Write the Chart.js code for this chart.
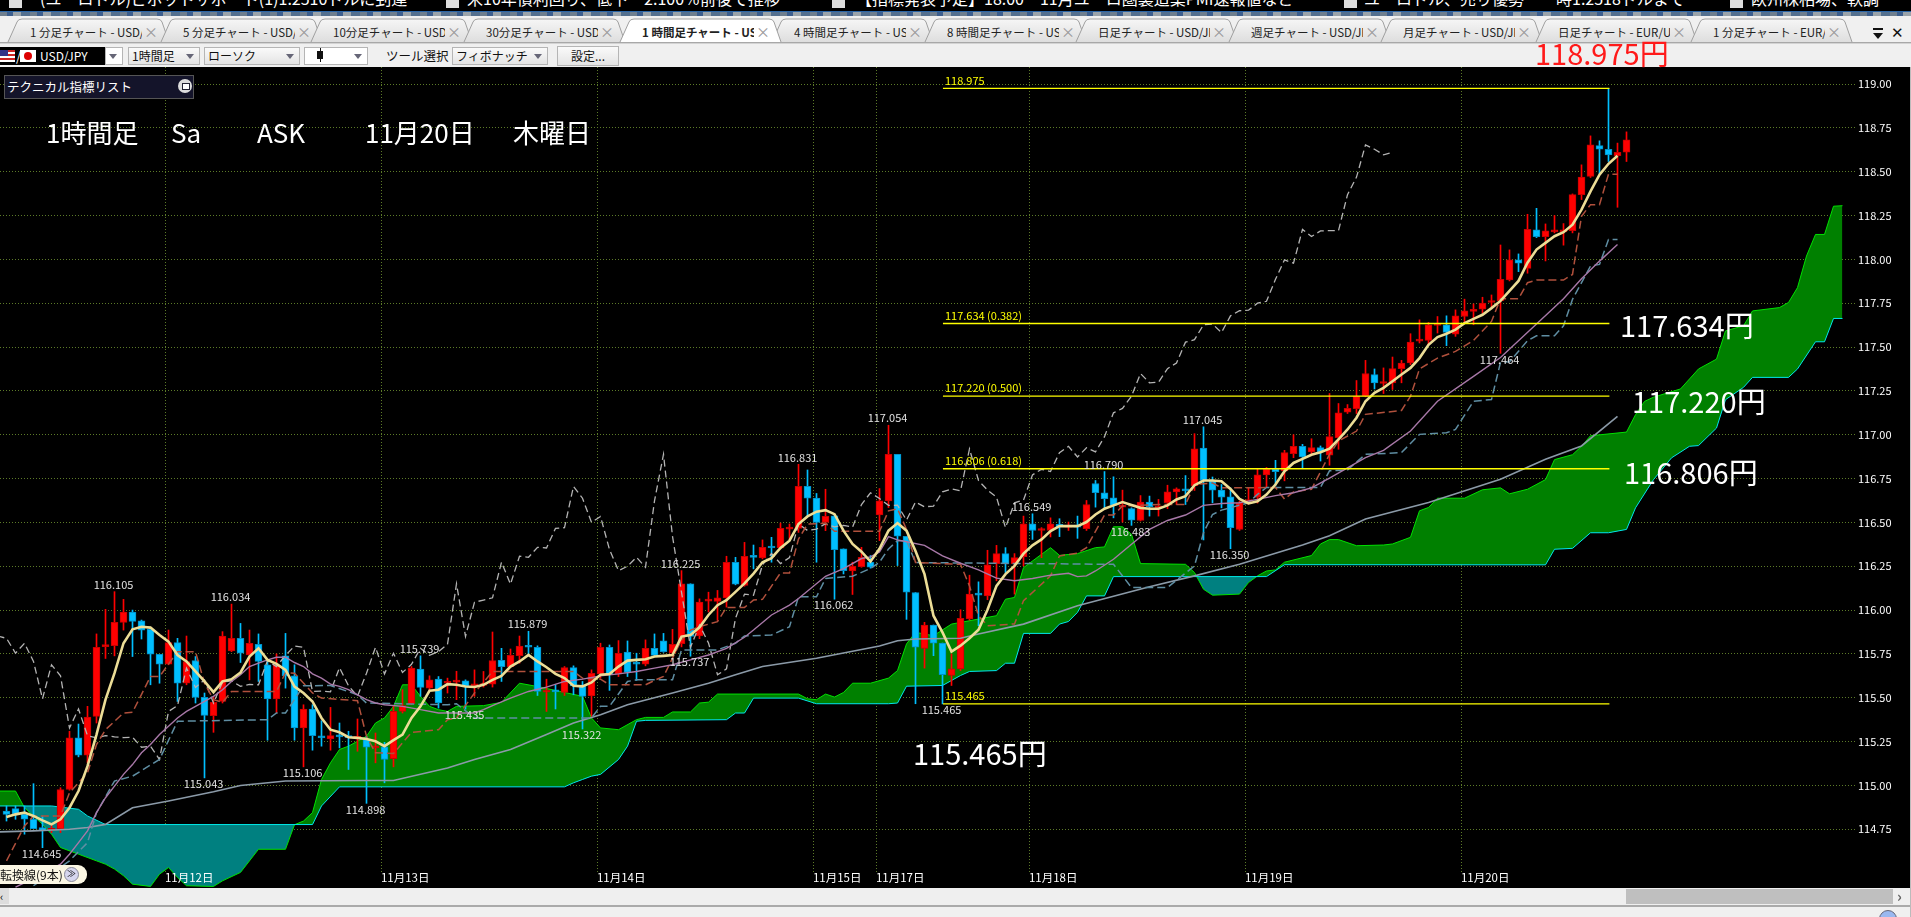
<!DOCTYPE html>
<html lang="ja"><head><meta charset="utf-8">
<script src="https://cdn.jsdelivr.net/npm/chart.js@4/dist/chart.umd.min.js"></script>
<style>
html,body{margin:0;padding:0;width:1911px;height:917px;overflow:hidden;background:#f0f0f0;font-family:"Noto Sans CJK JP",sans-serif}
.a{position:absolute;white-space:nowrap}
#ticker{position:absolute;left:0;top:0;width:1911px;height:11px;background:#000;overflow:hidden}
#ticker span{position:absolute;top:-13px;color:#fff;font-size:16px;line-height:22px;white-space:nowrap}
#ticker i{position:absolute;top:0;width:13px;height:8px;background:#ddd}
#stripe{position:absolute;left:0;top:11px;width:1911px;height:5px;background:repeating-linear-gradient(90deg,#6f7f8f 0 7px,#3d5f8e 7px 13px,#9aa3aa 13px 21px,#54708f 21px 30px);border-top:1px solid #2a66a8;box-sizing:border-box}
.tabt{position:absolute;top:24px;height:16px;line-height:16px;width:112px;overflow:hidden;white-space:nowrap;font-size:11.5px;color:#222}
.tabx{position:absolute;top:23px;color:#999;font-size:14px;line-height:16px}
.sel{position:absolute;top:47px;height:18px;box-sizing:border-box;border:1px solid #b5b5b5;background:linear-gradient(#fafafa,#e4e4e4);font-size:12px;line-height:16px;padding-left:3px;color:#111;white-space:nowrap}
.sel b{position:absolute;right:5px;top:6px;width:0;height:0;border-left:4px solid transparent;border-right:4px solid transparent;border-top:5px solid #667}
.big{position:absolute;color:#fff;font-size:29px;line-height:34px;white-space:nowrap;z-index:5}
.ttl{position:absolute;color:#fff;font-size:26px;line-height:32px;top:116px;z-index:5;white-space:nowrap}
#c{position:absolute;left:0;top:67px;display:block}
</style></head><body>
<div id="ticker">
<i style="left:9px"></i><span style="left:40px">(ユーロドル)ピボットサポート(1)1.2510ドルに到達</span>
<i style="left:446px"></i><span style="left:467px">米10年債利回り、低下　2.100％前後で推移</span>
<i style="left:832px"></i><span style="left:856px">【指標発表予定】18:00　11月ユーロ圏製造業PMI速報値など</span>
<i style="left:1344px"></i><span style="left:1364px">ユーロドル、売り優勢　一時1.2518ドルまで</span>
<i style="left:1730px"></i><span style="left:1751px">欧州株相場、軟調</span></div>
<div id="stripe"></div>
<svg id="tabs" width="1911" height="44" style="position:absolute;left:0;top:0"></svg>
<div id="tabtext"></div>
<div class="a" style="left:1873px;top:33px;width:0;height:0;border-left:5px solid transparent;border-right:5px solid transparent;border-top:6px solid #111"></div>
<div class="a" style="left:1873px;top:28px;width:10px;height:2px;background:#111"></div>
<div class="a" style="left:1891px;top:22px;font-size:15px;line-height:20px;color:#111">✕</div>

<div class="a" style="left:0;top:47px;width:105px;height:18px;background:#000;color:#fff;font-size:12px;line-height:18px"><span style="position:absolute;left:40px">USD/JPY</span></div>
<div class="a" style="left:0;top:50px;width:15px;height:12px;background:repeating-linear-gradient(#c22 0 2px,#fff 2px 4px)"><div style="width:8px;height:6px;background:#338"></div></div>
<div class="a" style="left:16px;top:47px;color:#fff;font-size:13px;line-height:18px">/</div>
<div class="a" style="left:20px;top:50px;width:16px;height:12px;background:#fff"><div style="width:8px;height:8px;border-radius:50%;background:#d00;margin:2px 4px"></div></div>
<div class="sel" style="left:105px;width:18px;background:#fff"><b></b></div>
<div class="sel" style="left:128px;width:72px">1時間足<b></b></div>
<div class="sel" style="left:204px;width:96px">ローソク<b></b></div>
<div class="sel" style="left:304px;width:64px;background:#fff"><span style="position:absolute;left:12px;top:3px;width:6px;height:8px;background:#111"></span><span style="position:absolute;left:14.5px;top:0;width:1px;height:14px;background:#111"></span><b></b></div>
<div class="a" style="left:386px;top:47px;font-size:12.5px;line-height:18px;color:#111">ツール選択</div>
<div class="sel" style="left:452px;width:96px">フィボナッチ<b></b></div>
<div class="sel" style="left:557px;width:62px;height:20px;top:46px;text-align:center;padding:0;line-height:18px">設定...</div>
<div class="a" style="left:1535px;top:35px;color:#ff1a1a;font-size:29px;line-height:34px;z-index:5">118.975円</div>

<canvas id="c" width="1910" height="821"></canvas>

<div class="a" style="left:4px;top:75px;width:190px;height:24px;box-sizing:border-box;background:#14142a;border:1px solid #555;color:#fff;font-size:12.5px;line-height:21px;padding-left:2px;z-index:5">テクニカル指標リスト
<span style="position:absolute;left:173px;top:3px;width:14px;height:14px;border-radius:50%;background:#ddd"></span><span style="position:absolute;left:177px;top:7px;width:6px;height:5px;border:1px solid #223;background:#fff"></span></div>
<div class="ttl" style="left:46px">1時間足</div><div class="ttl" style="left:171px">Sa</div><div class="ttl" style="left:257px">ASK</div><div class="ttl" style="left:365px">11月20日</div><div class="ttl" style="left:513px">木曜日</div>
<div class="big" style="left:1620px;top:307px">117.634円</div>
<div class="big" style="left:1632px;top:383px">117.220円</div>
<div class="big" style="left:1624px;top:454px">116.806円</div>
<div class="big" style="left:913px;top:735px">115.465円</div>

<div class="a" style="left:-8px;top:865px;width:95px;height:19px;background:#fbf7e4;border-radius:9px;z-index:5;font-size:12px;line-height:19px;color:#111"><span style="position:absolute;left:8px">転換線(9本)</span>
<span style="position:absolute;left:72px;top:2px;width:15px;height:15px;border-radius:50%;background:#d6d6ee;border:1px solid #889;box-sizing:border-box;font-size:9px;line-height:12px;text-align:center">≫</span></div>

<div class="a" style="left:0;top:888px;width:1911px;height:17px;background:#efefef;border-bottom:2px solid #aaa;box-sizing:content-box"></div>
<div class="a" style="left:0;top:888px;width:9px;height:16px;background:#ddd;font-size:11px;line-height:16px">‹</div>
<div class="a" style="left:1626px;top:889px;width:267px;height:15px;background:#bfbfbf"></div>
<div class="a" style="left:1897px;top:888px;font-size:15px;line-height:16px;color:#666;font-weight:bold">›</div>
<div class="a" style="left:1879px;top:910px;width:16px;height:16px;border-radius:50%;background:#9ab8f0;border:1px solid #667"></div>
<div class="a" style="left:1910px;top:67px;width:1px;height:850px;background:#bbb"></div>

<script>
/* ---------- text in the window frame ---------- */
const tabNames=["1 分足チャート - USD/","5 分足チャート - USD/","10分足チャート - USD/","30分足チャート - USD/","1 時間足チャート - US","4 時間足チャート - US","8 時間足チャート - US","日足チャート - USD/JP","週足チャート - USD/JP","月足チャート - USD/JP","日足チャート - EUR/US","1 分足チャート - EUR/"];
const tabLefts=[30,183,333,486,642,794,947,1098,1251,1403,1558,1713];
const activeTab=4;

/* ---------- candles: one value per hourly bar ---------- */
const opens=[114.854,114.868,114.835,114.807,114.760,114.744,114.754,114.977,115.271,115.172,
115.394,115.792,115.797,115.930,115.989,115.938,115.890,115.748,115.691,115.814,
115.583,115.712,115.502,115.398,115.479,115.767,115.839,115.744,115.805,115.688,
115.494,115.739,115.625,115.328,115.436,115.277,115.265,115.282,115.279,115.269,
115.261,115.214,115.220,115.153,115.422,115.466,115.663,115.555,115.606,115.583,
115.589,115.597,115.568,115.570,115.578,115.714,115.678,115.740,115.794,115.788,
115.532,115.538,115.530,115.672,115.565,115.511,115.636,115.788,115.636,115.760,
115.697,115.691,115.782,115.824,115.754,115.809,116.150,115.852,116.051,116.049,
116.070,116.273,116.140,116.307,116.297,116.360,116.354,116.462,116.466,116.705,
116.638,116.500,116.538,116.349,116.223,116.248,116.273,116.542,116.623,116.888,
116.421,116.100,115.782,115.915,115.812,115.627,115.665,115.949,116.091,116.081,
116.265,116.322,116.265,116.305,116.492,116.454,116.454,116.489,116.473,116.479,
116.464,116.722,116.669,116.640,116.587,116.579,116.511,116.616,116.583,116.612,
116.674,116.686,116.710,116.924,116.735,116.684,116.646,116.460,116.619,116.642,
116.771,116.803,116.794,116.892,116.934,116.902,116.926,116.884,116.983,117.129,
117.148,117.220,117.343,117.292,117.296,117.377,117.409,117.534,117.538,117.623,
117.627,117.574,117.674,117.703,117.716,117.754,117.765,117.883,117.997,117.949,
118.168,118.130,118.157,118.157,118.164,118.369,118.473,118.649,118.628,118.592,118.611];
const highs=[114.883,114.883,114.883,115.010,114.826,114.778,114.987,115.309,115.350,115.451,
115.864,116.004,116.105,116.061,116.000,115.943,115.902,115.748,115.886,115.839,
115.852,115.735,115.527,115.508,115.877,116.034,115.924,115.886,115.864,115.707,
115.750,115.867,115.688,115.460,115.460,115.369,115.445,115.356,115.309,115.379,
115.280,115.299,115.246,115.451,115.546,115.678,115.739,115.625,115.621,115.612,
115.651,115.602,115.659,115.650,115.875,115.782,115.778,115.852,115.879,115.796,
115.606,115.574,115.678,115.682,115.593,115.659,115.811,115.801,115.826,115.824,
115.754,115.830,115.864,115.867,115.890,116.225,116.150,116.064,116.102,116.112,
116.307,116.301,116.386,116.371,116.400,116.415,116.496,116.491,116.831,116.799,
116.665,116.689,116.542,116.349,116.273,116.358,116.311,116.693,117.054,116.888,
116.421,116.100,115.930,115.915,115.812,115.750,116.002,116.199,116.161,116.341,
116.369,116.356,116.322,116.536,116.549,116.470,116.526,116.521,116.502,116.536,
116.625,116.739,116.790,116.760,116.684,116.583,116.653,116.650,116.631,116.712,
116.697,116.767,117.006,117.045,116.759,116.716,116.697,116.621,116.699,116.807,
116.813,116.854,116.911,117.000,116.945,116.977,116.936,117.235,117.178,117.172,
117.309,117.424,117.375,117.381,117.443,117.424,117.576,117.655,117.640,117.674,
117.678,117.712,117.773,117.746,117.784,117.797,118.082,118.054,118.031,118.257,
118.291,118.202,118.250,118.204,118.373,118.539,118.704,118.676,118.975,118.663,118.727];
const lows=[114.797,114.807,114.722,114.754,114.645,114.731,114.731,114.973,115.163,115.129,
115.356,115.724,115.739,115.886,115.735,115.835,115.574,115.583,115.688,115.479,
115.574,115.470,115.043,115.303,115.470,115.763,115.701,115.602,115.593,115.258,
115.413,115.555,115.258,115.106,115.201,115.224,115.201,115.214,115.091,115.195,
114.898,115.129,115.015,115.106,115.413,115.460,115.508,115.546,115.441,115.527,
115.489,115.435,115.508,115.561,115.561,115.593,115.674,115.697,115.750,115.513,
115.422,115.436,115.513,115.517,115.322,115.394,115.612,115.542,115.621,115.621,
115.599,115.682,115.739,115.759,115.744,115.790,115.737,115.837,115.989,115.941,
116.017,116.144,116.136,116.235,116.292,116.273,116.349,116.402,116.443,116.538,
116.273,116.453,116.062,116.206,116.089,116.244,116.239,116.396,116.585,116.254,
115.947,115.466,115.669,115.740,115.465,115.570,115.655,115.943,115.911,116.059,
116.167,116.214,116.091,116.252,116.403,116.299,116.417,116.419,116.454,116.409,
116.454,116.587,116.583,116.526,116.502,116.483,116.508,116.536,116.536,116.578,
116.602,116.602,116.682,116.400,116.612,116.583,116.350,116.454,116.604,116.610,
116.699,116.708,116.737,116.869,116.809,116.888,116.850,116.826,116.917,117.121,
117.121,117.216,117.261,117.235,117.258,117.296,117.400,117.523,117.510,117.580,
117.508,117.561,117.636,117.627,117.693,117.727,117.464,117.877,117.930,117.921,
118.124,117.991,118.151,118.081,118.151,118.341,118.467,118.488,118.558,118.297,118.558];
const closes=[114.835,114.839,114.807,114.754,114.744,114.754,114.977,115.271,115.172,115.390,
115.788,115.801,115.930,115.989,115.936,115.886,115.748,115.691,115.814,115.583,
115.707,115.502,115.400,115.474,115.852,115.839,115.754,115.811,115.707,115.494,
115.688,115.625,115.328,115.436,115.284,115.271,115.284,115.277,115.273,115.275,
115.218,115.224,115.148,115.422,115.455,115.669,115.559,115.602,115.470,115.589,
115.597,115.565,115.576,115.574,115.712,115.678,115.742,115.795,115.788,115.536,
115.538,115.534,115.672,115.568,115.508,115.640,115.788,115.636,115.754,115.644,
115.691,115.782,115.742,115.763,115.805,116.150,115.850,116.045,116.057,116.070,
116.273,116.148,116.307,116.301,116.358,116.354,116.466,116.470,116.705,116.638,
116.500,116.534,116.345,116.225,116.250,116.301,116.244,116.623,116.888,116.421,
116.102,115.788,115.915,115.812,115.631,115.665,115.953,116.091,116.085,116.258,
116.322,116.265,116.299,116.492,116.454,116.462,116.492,116.475,116.483,116.473,
116.602,116.669,116.636,116.597,116.598,116.513,116.616,116.589,116.593,116.674,
116.691,116.680,116.919,116.739,116.684,116.644,116.470,116.612,116.627,116.771,
116.803,116.790,116.898,116.934,116.873,116.926,116.902,116.989,117.125,117.150,
117.220,117.349,117.296,117.299,117.377,117.409,117.528,117.542,117.627,117.631,
117.583,117.678,117.707,117.710,117.750,117.761,117.886,117.997,117.978,118.171,
118.130,118.162,118.164,118.164,118.369,118.469,118.653,118.628,118.596,118.611,118.682];

/* ---------- short moving average, one value per bar ---------- */
const fastAvg=[114.820,114.835,114.845,114.826,114.801,114.778,114.807,114.873,114.968,115.110,
115.290,115.489,115.640,115.811,115.890,115.905,115.900,115.858,115.820,115.744,
115.707,115.650,115.593,115.532,115.593,115.606,115.644,115.735,115.782,115.716,
115.693,115.659,115.564,115.527,115.479,115.385,115.318,115.303,115.275,115.271,
115.265,115.252,115.224,115.258,115.290,115.385,115.451,115.540,115.546,115.578,
115.574,115.564,115.561,115.574,115.602,115.625,115.678,115.707,115.744,115.707,
115.674,115.636,115.612,115.568,115.565,115.587,115.631,115.635,115.678,115.712,
115.716,115.720,115.735,115.739,115.744,115.849,115.858,115.902,115.972,116.028,
116.057,116.104,116.152,116.208,116.273,116.296,116.354,116.396,116.491,116.534,
116.561,116.570,116.547,116.453,116.377,116.333,116.277,116.349,116.453,116.496,
116.453,116.337,116.205,115.968,115.873,115.763,115.797,115.839,115.888,116.002,
116.138,116.205,116.252,116.322,116.369,116.403,116.451,116.479,116.479,116.479,
116.502,116.545,116.578,116.597,116.616,116.599,116.583,116.578,116.578,116.597,
116.631,116.650,116.712,116.739,116.739,116.735,116.691,116.634,116.608,116.621,
116.659,116.716,116.792,116.839,116.862,116.886,116.900,116.920,116.974,117.030,
117.097,117.191,117.239,117.267,117.305,117.343,117.381,117.437,117.513,117.557,
117.576,117.599,117.636,117.661,117.684,117.722,117.763,117.820,117.877,117.981,
118.056,118.094,118.132,118.155,118.198,118.284,118.388,118.483,118.545,118.591];

/* ---------- medium moving average (vertices) ---------- */
const midBars=[1,4,6,7,8,9,10,11,12,13,14,15,16,17,18,19,20,21,22,23,24,25,26,27,28,29,30,31,32,33,34,35,36,37,38,39,40,41,42,44,46,48,52,53,54,56,58,60,62,64,66,68,70,72,74,76,78,80,82,83,85,87,88,91,93,95,96,97,98,99,100,102,104,106,108,110,112,114,116,118,119,120,121,123,125,127,129,131,133,135,137,139,141,143,145,147,151,153,156,159,163,166,170,173,175,177,179];
const midVals=[114.42,114.494,114.551,114.608,114.674,114.741,114.845,114.930,114.996,115.063,115.119,115.186,115.233,115.290,115.337,115.385,115.422,115.451,115.479,115.508,115.546,115.593,115.631,115.678,115.697,115.716,115.731,115.731,115.701,115.678,115.636,115.612,115.578,115.565,115.546,115.517,115.489,115.470,115.460,115.451,115.432,115.413,115.413,115.432,115.455,115.498,115.536,115.561,115.593,115.606,115.625,115.636,115.650,115.669,115.688,115.716,115.744,115.782,115.845,115.886,115.972,116.028,116.066,116.193,116.237,116.294,116.303,116.332,116.419,116.400,116.390,116.369,116.309,116.267,116.229,116.182,116.167,116.180,116.199,116.210,116.191,116.195,116.223,116.290,116.375,116.460,116.511,116.542,116.597,116.608,116.612,116.631,116.653,116.669,116.697,116.752,116.869,116.911,117.021,117.191,117.333,117.440,117.632,117.775,117.889,117.990,118.085];

/* ---------- long moving average ---------- */
const longBars=[-1,3,7,9,11,14,18,23,26,31,40,43,49,52,56,60,63,66,69,74,78,81,84,90,97,99,101,106,108,113,119,127,132,137,144,147,151,158,166,171,175,179];
const longVals=[114.735,114.741,114.750,114.760,114.778,114.873,114.911,114.964,115.000,115.025,115.028,115.028,115.100,115.148,115.205,115.290,115.356,115.403,115.460,115.527,115.583,115.631,115.678,115.725,115.795,115.825,115.835,115.839,115.864,115.920,116.025,116.133,116.195,116.261,116.371,116.424,116.519,116.614,116.746,116.860,116.936,117.104];

/* ---------- conversion line ---------- */
const tenkanBars=[0,2,3,6,7,9,10,11,13,14,16,17,19,21,22,23,24,25,30,31,32,34,35,39,40,41,43,45,48,49,50,52,54,63,64,66,67,71,72,73,75,76,77,79,80,82,83,84,86,87,88,89,91,92,97,98,99,100,101,106,107,108,109,112,113,116,117,119,120,122,123,124,128,131,132,134,135,137,141,142,143,145,147,148,150,151,155,156,157,159,161,163,165,166,168,169,170,173,174,175,176,177,178,179];
const tenkanVals=[114.570,114.769,114.826,114.826,114.958,115.072,115.233,115.318,115.413,115.417,115.621,115.621,115.763,115.763,115.583,115.489,115.474,115.536,115.536,115.644,115.640,115.527,115.498,115.483,115.280,115.186,115.182,115.303,115.318,115.375,115.385,115.527,115.650,115.650,115.612,115.606,115.574,115.574,115.599,115.621,115.830,115.886,115.905,115.934,116.015,116.015,116.057,116.061,116.212,116.212,116.405,116.490,116.496,116.449,116.449,116.566,116.578,116.460,116.271,116.261,116.138,115.968,115.911,115.921,116.053,116.195,116.309,116.324,116.356,116.542,116.542,116.593,116.602,116.602,116.716,116.725,116.697,116.697,116.699,116.633,116.674,116.689,116.888,116.964,117.021,117.116,117.138,117.220,117.375,117.437,117.475,117.538,117.646,117.776,117.776,117.867,117.882,117.882,117.914,118.246,118.312,118.312,118.486,118.486];

/* ---------- base line ---------- */
const kijunBars=[3,7,9,10,12,14,17,19,29,30,31,33,36,39,40,49,50,52,65,66,67,69,70,74,75,79,81,82,85,87,88,90,91,94,96,97,98,99,100,101,123,125,129,132,133,134,135,138,139,140,146,147,149,151,155,157,160,161,163,165,166,167,169,170,172,173,174,176,177,178,179];
const kijunVals=[114.428,114.570,114.674,114.845,115.025,115.053,115.148,115.366,115.375,115.413,115.413,115.568,115.570,115.517,115.470,115.460,115.466,115.385,115.385,115.451,115.451,115.593,115.602,115.602,115.773,115.773,115.811,115.852,115.858,115.905,116.076,116.076,116.180,116.193,116.237,116.273,116.349,116.396,116.396,116.271,116.261,116.129,116.129,116.252,116.441,116.545,116.570,116.612,116.66,116.699,116.699,116.794,116.799,116.888,116.898,117.002,117.011,117.030,117.191,117.201,117.413,117.416,117.536,117.564,117.564,117.621,117.772,117.962,117.971,118.113,118.113];

/* ---------- leading span A (upper green edge) ---------- */
const spanABars=[-1,1,2,4,5,6,8,10,11,12,13,14,16,17,18,19,20,23,24,26,28,31,32,33,34,35,36,37,38,39,40,41,42,43,44,45,46,47,48,49,50,53,55,57,59,64,65,66,68,70,71,73,74,76,77,78,79,88,89,90,91,92,93,94,96,98,99,100,101,103,105,110,111,112,113,116,117,119,121,122,123,124,125,126,131,132,133,134,137,138,139,140,141,142,145,146,147,148,150,153,154,156,157,158,159,162,164,166,167,169,171,172,174,175,176,180,181,182,183,186,187,188,190,191,193,194,197,198,199,200,201,202,203,204];
const spanAVals=[114.968,114.968,114.873,114.778,114.722,114.646,114.608,114.570,114.551,114.523,114.485,114.437,114.424,114.494,114.532,114.475,114.428,114.424,114.456,114.504,114.636,114.636,114.776,114.797,114.845,115.034,115.129,115.205,115.224,115.252,115.280,115.356,115.385,115.451,115.574,115.574,115.508,115.451,115.432,115.422,115.451,115.455,115.474,115.583,115.564,115.508,115.385,115.328,115.318,115.375,115.388,115.388,115.419,115.419,115.470,115.475,115.521,115.521,115.494,115.489,115.521,115.504,115.530,115.583,115.583,115.612,115.655,115.807,115.873,115.854,115.920,115.968,116.062,116.072,116.242,116.356,116.312,116.322,116.356,116.360,116.475,116.475,116.432,116.265,116.261,116.214,116.119,116.085,116.091,116.157,116.195,116.223,116.229,116.273,116.311,116.377,116.402,116.402,116.367,116.371,116.377,116.415,116.566,116.585,116.638,116.638,116.686,116.697,116.663,116.689,116.744,116.858,116.886,116.934,116.994,117.015,117.114,117.190,117.214,117.261,117.318,117.375,117.431,117.592,117.621,117.706,117.725,117.754,117.839,118.019,118.142,118.142,118.303,118.306];

/* ---------- leading span B (lower cyan edge) ---------- */
const spanBBars=[-1,5,8,9,11,34,35,37,62,63,64,65,66,68,69,70,71,80,81,82,83,88,90,98,99,100,104,106,107,110,111,112,113,116,117,118,119,120,122,123,140,142,171,172,174,176,178,180,181,183,185,187,188,190,191,193,194,198,199,201,202,203,204];
const spanBVals=[114.883,114.883,114.864,114.826,114.777,114.777,114.883,114.992,114.992,115.015,115.034,115.053,115.063,115.148,115.224,115.366,115.371,115.375,115.413,115.413,115.498,115.498,115.466,115.466,115.470,115.566,115.570,115.627,115.650,115.655,115.697,115.697,115.867,115.867,115.920,115.935,115.987,116.081,116.081,116.191,116.191,116.259,116.258,116.347,116.352,116.441,116.441,116.460,116.583,116.744,116.868,116.934,116.938,117.038,117.200,117.270,117.327,117.327,117.375,117.530,117.530,117.663,117.663];

/* ---------- Fibonacci levels, labelled highs and lows, axes ---------- */
const fibLevels=[118.975,117.634,117.220,116.806,115.465];
const fibTexts=["118.975","117.634 (0.382)","117.220 (0.500)","116.806 (0.618)","115.465"];
const fibStart=104.05, fibEnd=178.1;
const highMarks=[[12,"116.105"],[25,"116.034"],[46,"115.739"],[58,"115.879"],[75,"116.225"],[88,"116.831"],[98,"117.054"],[114,"116.549"],[122,"116.790"],[133,"117.045"]];
const lowMarks=[[4,"114.645"],[22,"115.043"],[33,"115.106"],[40,"114.898"],[51,"115.435"],[64,"115.322"],[76,"115.737"],[92,"116.062"],[104,"115.465"],[125,"116.483"],[136,"116.350"],[166,"117.464"]];
const yTicks=[114.75,115,115.25,115.5,115.75,116,116.25,116.5,116.75,117,117.25,117.5,117.75,118,118.25,118.5,118.75,119];
const dayBars=[17.6,41.6,65.6,89.6,96.6,113.6,137.6,161.6];
const dayLabels=["11月12日","11月13日","11月14日","11月15日","11月17日","11月18日","11月19日","11月20日"];

/* ---------- window frame ---------- */
(function(){
  const svg=document.getElementById('tabs'), tt=document.getElementById('tabtext');
  let s='<defs><linearGradient id="g" x1="0" y1="0" x2="0" y2="1"><stop offset="0" stop-color="#f6f6f6"/><stop offset="1" stop-color="#dedede"/></linearGradient></defs><rect x="0" y="42" width="1911" height="1.4" fill="#a8a8a8"/>';
  const order=tabLefts.map((_,i)=>i).filter(i=>i!==activeTab).concat([activeTab]);
  order.forEach(i=>{const l=tabLefts[i]-22,w=161;
    const d=`M${l},42 L${l+9},22 Q${l+10},19 ${l+14},19 L${l+w-12},19 Q${l+w-8},19 ${l+w-7},22 L${l+w},42`;
    s+=`<path d="${d}" fill="${i===activeTab?'#fff':'url(#g)'}" stroke="#a0a0a0"/>`;});
  svg.innerHTML=s;
  tabNames.forEach((n,i)=>{
    tt.insertAdjacentHTML('beforeend',`<div class="tabt" style="left:${tabLefts[i]}px;${i===activeTab?'font-weight:700':''}">${n}</div><div class="tabx" style="left:${tabLefts[i]+114}px">×</div>`);});
})();

/* ---------- chart ---------- */
const RED='#ff0000',BLUE='#00bfff',REDB='#c80000',BLUEB='#0090c8';
const barIdx=opens.map((_,i)=>i);
const isUp=i=>closes[i]>=opens[i];
const pairs=(xs,ys)=>xs.map((x,i)=>({x,y:ys[i]}));
const lineDs=(label,data,color,width,dash,order,extra)=>Object.assign({type:'line',label,data,borderColor:color,borderWidth:width,borderDash:dash||[],pointRadius:0,pointHitRadius:0,tension:0,fill:false,order},extra||{});

const datasets=[
  lineDs('先行スパンA',pairs(spanABars,spanAVals),'#00e000',1,[],20,{fill:{target:1,above:'#008000',below:'#008080'}}),
  lineDs('先行スパンB',pairs(spanBBars,spanBVals),'#00e8e8',1,[],19),
  {type:'bar',label:'wick',order:12,grouped:false,barThickness:1,data:barIdx.map(i=>({x:i,y:[lows[i],highs[i]]})),backgroundColor:barIdx.map(i=>isUp(i)?RED:BLUE),borderWidth:0},
  {type:'bar',label:'body',order:11,grouped:false,barThickness:7,minBarLength:2,data:barIdx.map(i=>({x:i,y:[opens[i],closes[i]]})),backgroundColor:barIdx.map(i=>isUp(i)?RED:BLUE),borderColor:barIdx.map(i=>isUp(i)?REDB:BLUEB),borderWidth:1,borderSkipped:false},
  lineDs('長期移動平均',pairs(longBars,longVals),'#8b9aa8',1.6,[],8),
  lineDs('遅行スパン',closes.slice(24,180).map((c,k)=>({x:k-1,y:c})),'#b4b4b4',1.3,[7,4],7),
  lineDs('基準線',pairs(kijunBars,kijunVals),'#5f8ea3',1.5,[8,4],6),
  lineDs('転換線',pairs(tenkanBars,tenkanVals),'#b0503c',1.5,[8,4],5),
  lineDs('中期移動平均',pairs(midBars,midVals),'#a878a8',1.4,[],4),
  lineDs('短期移動平均',barIdx.slice(0,180).map(i=>({x:i,y:fastAvg[i]})),'#ecdd96',2.6,[],3),
];
fibLevels.forEach((v,k)=>datasets.push(lineDs('fib'+k,[{x:fibStart,y:v},{x:fibEnd,y:v}],'#ffff00',1.4,[],1)));

const pxMin=-6.5/9, pxMax=(1855-6.5)/9;
const yTop=119+17/175.36, yBot=119-(888-84)/175.36, guideBot=119-(872-84)/175.36;

const overlay={id:'overlay',
  beforeDatasetsDraw(ch){const c=ch.ctx,x=ch.scales.x,y=ch.scales.y;
    c.save();c.strokeStyle='#5c7a28';c.lineWidth=1;c.setLineDash([1,2]);
    dayBars.forEach(b=>{const p=Math.round(x.getPixelForValue(b))+.5;c.beginPath();c.moveTo(p,y.top);c.lineTo(p,y.getPixelForValue(guideBot));c.stroke();});
    c.restore();},
  afterDatasetsDraw(ch){const c=ch.ctx,x=ch.scales.x,y=ch.scales.y;
    c.save();c.font='11px "Noto Sans CJK JP"';c.textBaseline='middle';c.textAlign='center';c.fillStyle='#e2e2e2';
    highMarks.forEach(([b,t])=>c.fillText(t,x.getPixelForValue(b)-1,y.getPixelForValue(+t)-7));
    lowMarks.forEach(([b,t])=>c.fillText(t,x.getPixelForValue(b)-1,y.getPixelForValue(+t)+6));
    c.textAlign='left';c.fillStyle='#ffff00';
    fibLevels.forEach((v,k)=>c.fillText(fibTexts[k],x.getPixelForValue(fibStart)+2,y.getPixelForValue(v)-8));
    c.restore();}
};

Chart.defaults.animation=false;
new Chart(document.getElementById('c'),{
  type:'line',
  data:{datasets},
  plugins:[overlay,{id:'bg',beforeDraw(ch){ch.ctx.fillStyle='#000';ch.ctx.fillRect(0,0,ch.width,ch.height);}}],
  options:{responsive:false,devicePixelRatio:1,animation:false,
    layout:{padding:0,autoPadding:false},
    plugins:{legend:{display:false},tooltip:{enabled:false},title:{display:false}},
    events:[],
    scales:{
      x:{type:'linear',min:pxMin,max:pxMax,offset:false,position:'bottom',
        grid:{display:false,offset:false},border:{display:false},
        afterBuildTicks(s){s.ticks=dayBars.map(v=>({value:v}));},
        afterFit(s){s.height=0;s.paddingLeft=s.paddingRight=s.paddingTop=s.paddingBottom=0;},
        ticks:{z:2,mirror:true,autoSkip:false,maxRotation:0,minRotation:0,align:'start',padding:3,color:'#fff',font:{family:'"Noto Sans CJK JP"',size:11.5},
          callback:(v)=>dayLabels[dayBars.indexOf(v)]||''}},
      y:{type:'linear',position:'right',min:yBot,max:yTop,beginAtZero:false,
        grid:{color:'#5c7a28',drawTicks:false,lineWidth:1},border:{display:false,dash:[1,2]},
        afterBuildTicks(s){s.ticks=yTicks.map(v=>({value:v}));},
        afterFit(s){s.width=55;s.paddingLeft=s.paddingRight=s.paddingTop=s.paddingBottom=0;},
        ticks:{autoSkip:false,padding:3,color:'#fff',font:{family:'"Noto Sans CJK JP"',size:11},callback:v=>v.toFixed(2)}}
    }
  }
});
</script>
</body></html>
